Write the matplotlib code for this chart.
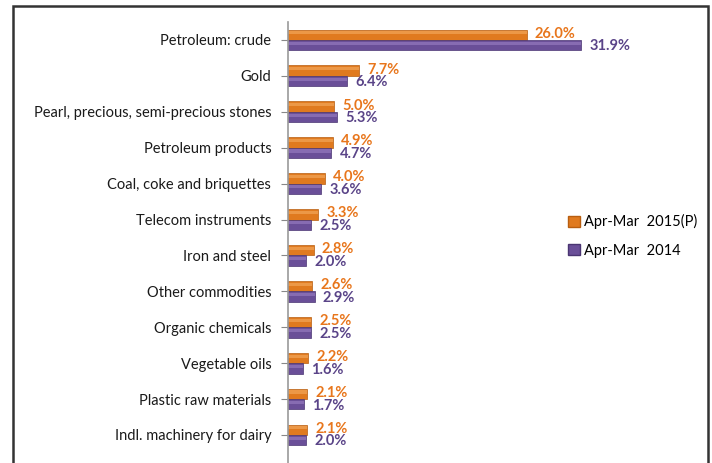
import matplotlib
matplotlib.use("Agg")
import matplotlib.pyplot as plt
from matplotlib.patches import Rectangle, Patch
import numpy as np

categories = ["Petroleum: crude", "Gold", "Pearl, precious, semi-precious stones",
              "Petroleum products", "Coal, coke and briquettes", "Telecom instruments",
              "Iron and steel", "Other commodities", "Organic chemicals",
              "Vegetable oils", "Plastic raw materials", "Indl. machinery for dairy"]
share_2015 = [26.0, 7.7, 5.0, 4.9, 4.0, 3.3, 2.8, 2.6, 2.5, 2.2, 2.1, 2.1]
share_2014 = [31.9, 6.4, 5.3, 4.7, 3.6, 2.5, 2.0, 2.9, 2.5, 1.6, 1.7, 2.0]
series_names = ["Apr-Mar  2015(P)", "Apr-Mar  2014"]

plt.rcParams['font.family'] = ['Lato', 'DejaVu Sans']

W, H = 712, 463
fig = plt.figure(figsize=(W/100, H/100), dpi=100)
fig.patches.append(Rectangle((13/W, -0.05), (708-13)/W, 1.05 - 6/H, transform=fig.transFigure,
                             fill=False, edgecolor='#333333', linewidth=1.8))

ax = fig.add_axes([288/W, 0, 380/W, 1 - 22/H])
y = np.arange(len(categories))
h = 0.29
orange = '#E07A1F'
orange_hi = '#F2A659'
purple = '#6A4F98'
purple_hi = '#9479BE'
ax.barh(y - h/2, share_2015, height=h, color=orange, edgecolor='#B85E10', linewidth=0.5,
        label=series_names[0])
ax.barh(y - h*0.68, share_2015, height=h*0.3, color=orange_hi, linewidth=0, alpha=0.7)
ax.barh(y + h/2, share_2014, height=h, color=purple, edgecolor='#4A3572', linewidth=0.5,
        label=series_names[1])
ax.barh(y + h*0.32, share_2014, height=h*0.3, color=purple_hi, linewidth=0, alpha=0.7)

for yi, v in zip(y, share_2015):
    ax.text(v + 0.9, yi - h*0.6, f"{v:.1f}%", color='#E8761C', fontsize=10.5, fontweight='bold',
            va='center', ha='left')
for yi, v in zip(y, share_2014):
    ax.text(v + 0.9, yi + h*0.62, f"{v:.1f}%", color='#5A4488', fontsize=10.5, fontweight='bold',
            va='center', ha='left')

ax.set_xlim(0, 380/9.18)
ax.set_ylim(11 + (463-435)/35.9, -0.5)
ax.set_yticks(y)
ax.set_yticklabels(categories, fontsize=10.5, color='#1a1a1a')
ax.tick_params(axis='y', length=5, color='#888888', pad=7)
ax.set_xticks([])
for s in ['top', 'right', 'bottom']:
    ax.spines[s].set_visible(False)
ax.spines['left'].set_color('#999999')
ax.spines['left'].set_linewidth(1.2)

handles = [Patch(facecolor=orange, edgecolor='#B85E10'), Patch(facecolor=purple, edgecolor='#4A3572')]
fig.legend(handles, series_names, loc='center left', bbox_to_anchor=(555/W, 1 - 236/H),
           frameon=False, fontsize=10.5, handlelength=0.8, handleheight=0.8, handletextpad=0.3,
           labelspacing=1.0)

fig.savefig("out.png", dpi=100)
